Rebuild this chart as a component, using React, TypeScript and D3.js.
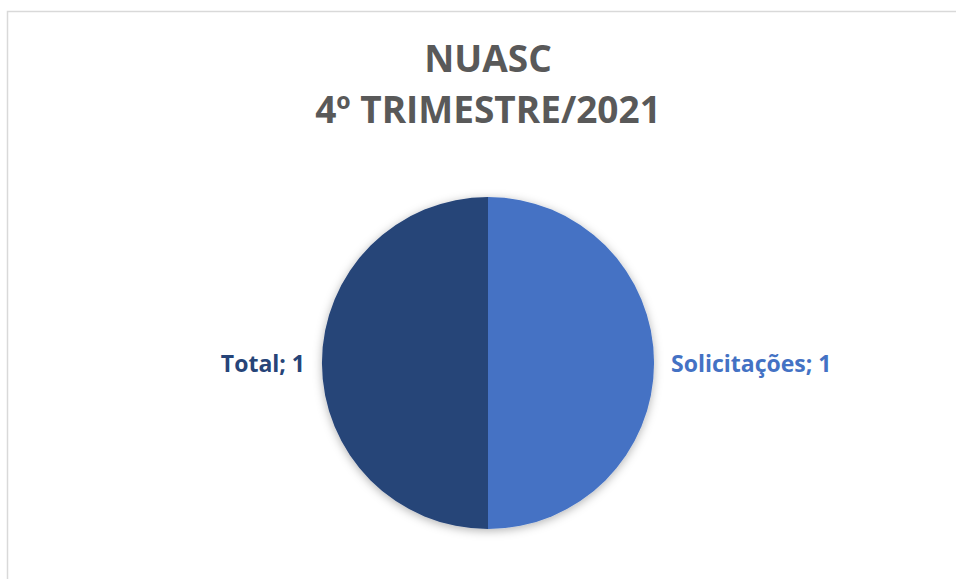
import React from "react";
import * as d3 from "d3";

const categories = ["Solicitações", "Total"];
const values = [1, 1];
const colors = ["#4472C4", "#264478"];
const titleLines = ["NUASC", "4º TRIMESTRE/2021"];

export default function App() {
  const width = 956;
  const height = 579;
  const cx = 488;
  const cy = 363;
  const radius = 166;

  const data = categories.map((c, i) => ({ name: c, value: values[i], color: colors[i] }));
  const pie = d3.pie<any>().sort(null).value(d => d.value);
  const arcs = pie(data);
  const arc = d3.arc<any>().innerRadius(0).outerRadius(radius);

  const font = "'Open Sans', sans-serif";

  return (
    <svg width={width} height={height} style={{ position: "absolute", left: 0, top: 0 }}>
      <defs>
        <filter id="shadow" x="-20%" y="-20%" width="140%" height="140%">
          <feDropShadow dx="0" dy="2" stdDeviation="5" floodColor="#000" floodOpacity="0.3" />
        </filter>
      </defs>
      <rect x={7.5} y={11.5} width={960} height={580} fill="#fff" stroke="#d9d9d9" strokeWidth={1.5} />
      {titleLines.map((t, i) => (
        <text key={t} x={cx} y={72 + i * 51} textAnchor="middle" fontFamily={font}
          fontWeight="bold" fontSize={37} fill="#595959">{t}</text>
      ))}
      <g transform={`translate(${cx},${cy})`}>
        <g filter="url(#shadow)">
          {arcs.map(a => (
            <path key={a.data.name} d={arc(a) as string} fill={a.data.color} />
          ))}
        </g>
        {arcs.map(a => {
          const mid = (a.startAngle + a.endAngle) / 2;
          const side = Math.sin(mid) >= 0 ? 1 : -1;
          const x = side * (radius + 17);
          return (
            <text key={a.data.name + "-l"} x={x} y={9} textAnchor={side > 0 ? "start" : "end"}
              fontFamily={font} fontWeight="bold" fontSize={23} fill={a.data.color}>
              {`${a.data.name}; ${a.data.value}`}
            </text>
          );
        })}
      </g>
    </svg>
  );
}
